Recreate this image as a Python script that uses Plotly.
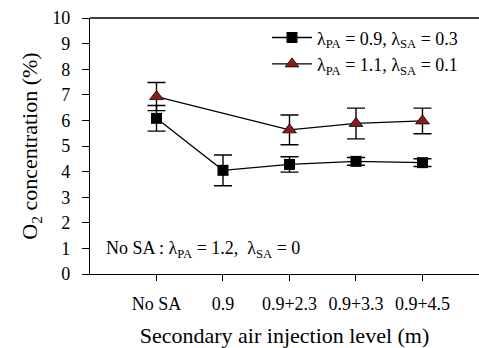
import plotly.graph_objects as go

categories = ["No SA", "0.9", "0.9+2.3", "0.9+3.3", "0.9+4.5"]
sq_values = [6.08, 4.05, 4.28, 4.40, 4.35]
sq_err = [0.5, 0.6, 0.3, 0.15, 0.15]
tri_values = [6.93, None, 5.63, 5.88, 5.98]
tri_err = [0.55, None, 0.58, 0.6, 0.5]
y_ticks = list(range(0, 11))

font_family = "Liberation Serif, Times New Roman, serif"

fig = go.Figure()
fig.add_trace(go.Scatter(
    x=categories, y=sq_values, mode="lines+markers",
    name="λ<sub>PA</sub> = 0.9, λ<sub>SA</sub> = 0.3",
    line=dict(color="black", width=1.3),
    marker=dict(symbol="square", size=11, color="black"),
    error_y=dict(type="data", array=sq_err, color="black", thickness=1.4, width=9),
))
fig.add_trace(go.Scatter(
    x=categories, y=tri_values, mode="lines+markers", connectgaps=True,
    name="λ<sub>PA</sub> = 1.1, λ<sub>SA</sub> = 0.1",
    line=dict(color="black", width=1.3),
    marker=dict(symbol="triangle-up", size=12, color="#8e1b1b",
                line=dict(color="black", width=0.8)),
    error_y=dict(type="data", array=tri_err, color="black", thickness=1.4, width=9),
))

fig.add_annotation(
    x=0.035, y=0.94, xref="paper", yref="y", xanchor="left", yanchor="middle",
    text="No SA : λ<sub>PA</sub> = 1.2,  λ<sub>SA</sub> = 0",
    showarrow=False, font=dict(family=font_family, size=18, color="black"),
)

fig.update_layout(
    width=479, height=348,
    margin=dict(l=90, r=0, t=18, b=74),
    paper_bgcolor="white", plot_bgcolor="white",
    font=dict(family=font_family, size=18, color="black"),
    showlegend=True,
    legend=dict(x=0.455, y=0.995, xanchor="left", yanchor="top",
                bgcolor="rgba(0,0,0,0)", font=dict(size=18),
                tracegroupgap=0, itemwidth=40),
    xaxis=dict(
        type="category", categoryorder="array", categoryarray=categories,
        range=[-1.0, 4.85], showline=True, linecolor="black", linewidth=1.3,
        mirror=False, ticks="outside", ticklen=6, tickcolor="black",
        showgrid=False, zeroline=False, tickfont=dict(size=18),
        ticklabelstandoff=7,
        title=dict(text="Secondary air injection level (m)", font=dict(size=22), standoff=14),
    ),
    yaxis=dict(
        range=[0, 10], tickvals=y_ticks, showline=True, linecolor="black", linewidth=1.3,
        mirror=False, ticks="outside", ticklen=7, tickcolor="black",
        showgrid=False, zeroline=False, tickfont=dict(size=18),
        ticklabelstandoff=8,
        title=dict(text="O<sub>2</sub> concentration (%)", font=dict(size=22), standoff=8),
    ),
)
fig.add_shape(type="line", xref="paper", yref="paper", x0=0, x1=1, y0=1, y1=1,
              line=dict(color="black", width=1.3))

fig.write_html("out.html")
